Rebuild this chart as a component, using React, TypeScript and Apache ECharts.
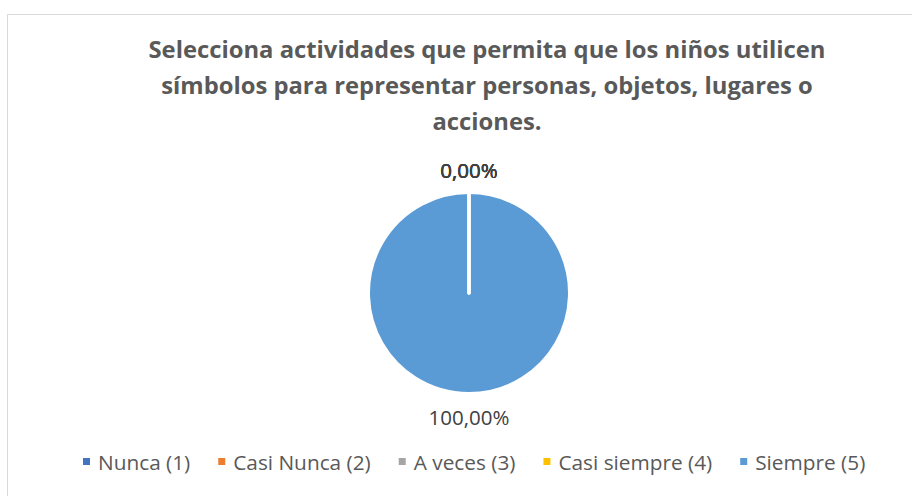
import React, { useEffect, useRef } from "react";
import * as echarts from "echarts";

const titleLines = [
  "Selecciona actividades que permita que los niños utilicen",
  "símbolos para representar personas, objetos, lugares o",
  "acciones.",
];
const categories = ["Nunca (1)", "Casi Nunca (2)", "A veces (3)", "Casi siempre (4)", "Siempre (5)"];
const values = [0, 0, 0, 0, 100];
const colors = ["#4472C4", "#ED7D31", "#A5A5A5", "#FFC000", "#5B9BD5"];

const FONT = "Open Sans";

export default function App() {
  const ref = useRef<HTMLDivElement>(null);
  useEffect(() => {
    if (!ref.current) return;
    const chart = echarts.init(ref.current, undefined, { renderer: "svg" });
    const items = categories.map((name, i) => ({
      name,
      value: values[i],
      itemStyle: {
        color: colors[i],
        borderColor: "#ffffff",
        borderWidth: values[i] > 0 ? 2 : 3,
      },
    }));
    // Draw the non-zero slice first so that the (white) borders of the
    // zero-sized slices are painted over it, as in the original.
    const ordered = [...items.filter((d) => d.value > 0), ...items.filter((d) => !(d.value > 0))];
    const lastNonZero = ordered.filter((d) => d.value > 0).length;
    chart.setOption({
      animation: false,
      backgroundColor: "#ffffff",
      graphic: [
        {
          type: "rect",
          left: 5,
          top: 12,
          shape: { width: 920, height: 500 },
          style: { fill: "none", stroke: "#d9d9d9", lineWidth: 1 },
          silent: true,
        },
      ],
      title: {
        text: titleLines.join("\n"),
        left: 487,
        top: 31,
        textAlign: "center",
        padding: 0,
        textStyle: {
          fontFamily: FONT,
          fontWeight: "bold",
          fontSize: 23.8,
          lineHeight: 36,
          color: "#595959",
        },
      },
      legend: {
        left: 81,
        top: 451,
        padding: 0,
        icon: "rect",
        itemWidth: 9,
        itemHeight: 9,
        itemGap: 26,
        selectedMode: false,
        textStyle: { fontFamily: FONT, fontSize: 20.8, color: "#595959", padding: [0, 0, 0, 2] },
        data: categories,
      },
      series: [
        {
          type: "pie",
          center: [469, 293],
          radius: 100,
          startAngle: 90,
          clockwise: true,
          avoidLabelOverlap: false,
          silent: true,
          label: {
            show: true,
            position: "outside",
            fontFamily: FONT,
            fontSize: 20.5,
            color: "#404040",
            formatter: (p: any) => p.percent.toFixed(2).replace(".", ",") + "%",
          },
          labelLine: { show: false },
          labelLayout: (p: any) => {
            const r = p.rect;
            const x = r.x + r.width / 2;
            if (p.dataIndex < lastNonZero) {
              return { x, y: r.y + r.height + 23, align: "center", verticalAlign: "middle" };
            }
            return { x, y: r.y - 22, align: "center", verticalAlign: "middle" };
          },
          data: ordered,
        },
      ],
    });
    return () => chart.dispose();
  }, []);
  return <div ref={ref} style={{ position: "absolute", left: 0, top: 0, width: 912, height: 496 }} />;
}
